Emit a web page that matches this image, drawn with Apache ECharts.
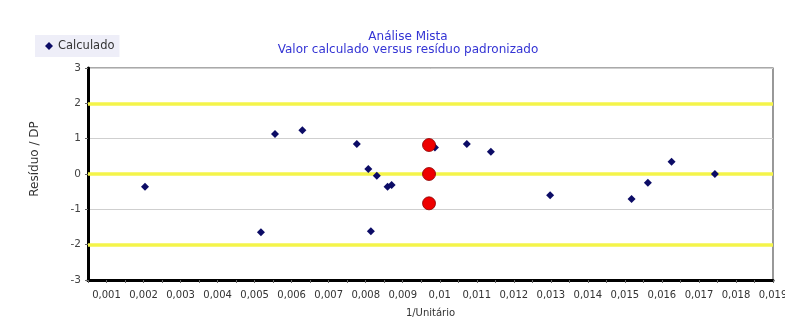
<!DOCTYPE html>
<html>
<head>
<meta charset="utf-8">
<script src="https://cdn.jsdelivr.net/npm/echarts@6/dist/echarts.min.js"></script>
<style>
  html, body { margin: 0; padding: 0; background: #ffffff; }
  #chart { width: 785px; height: 331px; }
</style>
</head>
<body>
<div id="chart"></div>
<script>
// Calculated points: x = 1/Unitário, y = standardized residual (Resíduo / DP)
const calcX = [0.00204, 0.00555, 0.00629, 0.00776, 0.00807, 0.0083, 0.00859, 0.0087,
               0.00517, 0.00814, 0.00987, 0.01073, 0.01138, 0.01298, 0.01518, 0.01562,
               0.01626, 0.01743];
const calcY = [-0.36, 1.13, 1.24, 0.85, 0.14, -0.05, -0.36, -0.31,
               -1.65, -1.62, 0.75, 0.85, 0.63, -0.6, -0.71, -0.25,
               0.35, 0.0];

// Highlighted points
const highlightX = [0.00971, 0.00971, 0.00971];
const highlightY = [0.82, 0.0, -0.83];

// Reference bands drawn in yellow
const refLevels = [2, 0, -2];

// Axis ticks
const xTickLabels = [0.001, 0.002, 0.003, 0.004, 0.005, 0.006, 0.007, 0.008, 0.009, 0.01,
                     0.011, 0.012, 0.013, 0.014, 0.015, 0.016, 0.017, 0.018, 0.019];
const xMinorTicks = [0.0005, 0.001, 0.0015, 0.002, 0.0025, 0.003, 0.0035, 0.004, 0.0045, 0.005,
                     0.0055, 0.006, 0.0065, 0.007, 0.0075, 0.008, 0.0085, 0.009, 0.0095, 0.01,
                     0.0105, 0.011, 0.0115, 0.012, 0.0125, 0.013, 0.0135, 0.014, 0.0145, 0.015,
                     0.0155, 0.016, 0.0165, 0.017, 0.0175, 0.018, 0.0185, 0.019];

const calcData = calcX.map((x, i) => [x, calcY[i]]);
const highlightData = highlightX.map((x, i) => [x, highlightY[i]]);

const fontFamily = '"DejaVu Sans", Verdana, sans-serif';
const chart = echarts.init(document.getElementById('chart'), null, { renderer: 'canvas' });

chart.setOption({
  animation: false,
  backgroundColor: '#ffffff',
  title: {
    text: 'Análise Mista\nValor calculado versus resíduo padronizado',
    left: 403,
    top: 25,
    textAlign: 'center',
    textStyle: {
      fontFamily: fontFamily,
      fontSize: 12,
      fontWeight: 'normal',
      color: '#3434d4',
      lineHeight: 13
    }
  },
  legend: {
    data: ['Calculado'],
    left: 35,
    top: 35,
    padding: [5, 5, 5, 10],
    backgroundColor: '#eeeef8',
    itemWidth: 8,
    itemHeight: 8,
    itemGap: 6,
    icon: 'diamond',
    textStyle: { fontFamily: fontFamily, fontSize: 11.5, color: '#333333' }
  },
  grid: {
    left: 88,
    right: 12,
    top: 68,
    bottom: 51,
    outerBoundsMode: 'none',
    containLabel: false,
    show: true,
    borderColor: '#555555',
    borderWidth: 1.2,
    backgroundColor: '#ffffff'
  },
  graphic: [
    {
      type: 'text',
      x: 35,
      y: 159,
      rotation: Math.PI / 2,
      style: {
        text: 'Resíduo / DP',
        fontFamily: fontFamily,
        fontSize: 12,
        fill: '#333333',
        align: 'center',
        verticalAlign: 'middle'
      }
    }
  ],
  xAxis: {
    type: 'value',
    min: 0.0005,
    max: 0.019,
    name: '1/Unitário',
    nameLocation: 'middle',
    nameGap: 28,
    nameTextStyle: { fontFamily: fontFamily, fontSize: 10, color: '#333333' },
    axisLine: { onZero: false, lineStyle: { color: '#000000', width: 3 } },
    axisTick: {
      customValues: xMinorTicks,
      length: 3,
      lineStyle: { color: '#666666', width: 1 }
    },
    axisLabel: {
      customValues: xTickLabels,
      margin: 10,
      fontFamily: fontFamily,
      fontSize: 10,
      color: '#333333',
      formatter: v => String(v).replace('.', ',')
    },
    splitLine: { show: false }
  },
  yAxis: {
    type: 'value',
    min: -3,
    max: 3,
    interval: 1,
    axisLine: { show: true, onZero: false, lineStyle: { color: '#000000', width: 3 } },
    axisTick: { show: true, length: 3, lineStyle: { color: '#666666' } },
    axisLabel: { fontFamily: fontFamily, fontSize: 10.5, color: '#444444', margin: 7 },
    splitLine: { show: true, lineStyle: { color: '#cfcfcf', width: 1 } }
  },
  series: [
    {
      name: 'Calculado',
      type: 'scatter',
      data: calcData,
      symbol: 'diamond',
      symbolSize: 8,
      itemStyle: { color: '#0c0c66', opacity: 1 },
      z: 3,
      markLine: {
        silent: true,
        symbol: 'none',
        label: { show: false },
        lineStyle: { color: '#f4f44a', width: 3.5, type: 'solid', opacity: 1 },
        data: refLevels.map(v => ({ yAxis: v })),
        z: 2
      }
    },
    {
      name: 'Destaque',
      type: 'scatter',
      data: highlightData,
      symbol: 'circle',
      symbolSize: 13,
      itemStyle: { color: '#ee0000', borderColor: '#8a0000', borderWidth: 0.8, opacity: 1 },
      z: 4
    }
  ]
});
</script>
</body>
</html>
